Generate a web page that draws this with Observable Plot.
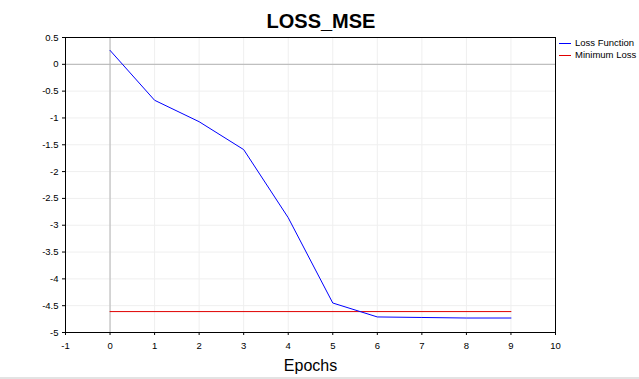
<!DOCTYPE html>
<html>
<head>
<meta charset="utf-8">
<script src="https://cdn.jsdelivr.net/npm/d3@7"></script>
<script src="https://cdn.jsdelivr.net/npm/@observablehq/plot@0.6"></script>
<style>
  html, body { margin: 0; padding: 0; background: white; }
  #wrap { position: relative; width: 639px; height: 379px; overflow: hidden; font-family: "Liberation Sans", Arial, sans-serif; }
  #title { box-sizing: border-box; height: 30px; padding-top: 11px; line-height: 20px; font-size: 20px; font-weight: bold; text-align: center; padding-left: 3px; color: black; }
  #legend { position: absolute; left: 559px; top: 37px; font-size: 9.5px; color: black; }
  #legend .row { height: 12px; line-height: 12px; white-space: nowrap; display: flex; align-items: center; }
  #legend .sw { display: inline-block; width: 12px; height: 1px; margin-right: 4px; }
  #sep { position: absolute; left: 0; top: 377px; width: 639px; height: 2px; background: #e3e3e3; }
</style>
</head>
<body>
<div id="wrap">
  <div id="title">LOSS_MSE</div>
  <div id="chart"></div>
  <div id="legend"></div>
  <div id="sep"></div>
</div>
<script>
const epochs = [0, 1, 2, 3, 4, 5, 6, 7, 8, 9];
const lossValues = [0.26, -0.67, -1.07, -1.59, -2.86, -4.45, -4.71, -4.72, -4.73, -4.73];
const minimumLoss = -4.61;
const xTicks = [-1, 0, 1, 2, 3, 4, 5, 6, 7, 8, 9, 10];
const yTicks = [-5, -4.5, -4, -3.5, -3, -2.5, -2, -1.5, -1, -0.5, 0, 0.5];
const seriesNames = ["Loss Function", "Minimum Loss"];
const seriesColors = ["#0000ff", "#e00000"];

const lossData = epochs.map((e, i) => ({epoch: e, loss: lossValues[i]}));
const minData = [
  {epoch: epochs[0], loss: minimumLoss},
  {epoch: epochs[epochs.length - 1], loss: minimumLoss}
];

const chart = Plot.plot({
  width: 639,
  height: 349,
  marginLeft: 65,
  marginRight: 84,
  marginTop: 7,
  marginBottom: 47,
  style: {fontFamily: "'Liberation Sans', Arial, sans-serif", fontSize: "9.5px", color: "black", background: "white", overflow: "visible"},
  x: {domain: [-1, 10]},
  y: {domain: [-5, 0.5]},
  marks: [
    Plot.gridX(xTicks, {stroke: "#efefef", strokeOpacity: 1}),
    Plot.gridY(yTicks, {stroke: "#efefef", strokeOpacity: 1}),
    Plot.ruleY([0], {stroke: "#b4b4b4"}),
    Plot.ruleX([0], {stroke: "#b4b4b4"}),
    Plot.line(minData, {x: "epoch", y: "loss", stroke: seriesColors[1], strokeWidth: 1}),
    Plot.line(lossData, {x: "epoch", y: "loss", stroke: seriesColors[0], strokeWidth: 1}),
    Plot.frame({stroke: "black", strokeWidth: 1}),
    Plot.axisX({ticks: xTicks, tickSize: 3, tickPadding: 7, tickFormat: d => String(d), label: null, stroke: "black"}),
    Plot.axisY({ticks: yTicks, tickSize: 3, tickPadding: 4, tickFormat: d => String(d), label: null, stroke: "black"}),
    Plot.text(["Epochs"], {frameAnchor: "bottom", dy: 38, lineAnchor: "bottom", fontSize: 16, fill: "black"})
  ]
});
document.getElementById("chart").appendChild(chart);

const legend = document.getElementById("legend");
seriesNames.forEach((name, i) => {
  const row = document.createElement("div");
  row.className = "row";
  const sw = document.createElement("span");
  sw.className = "sw";
  sw.style.background = seriesColors[i];
  row.appendChild(sw);
  row.appendChild(document.createTextNode(name));
  legend.appendChild(row);
});
</script>
</body>
</html>
